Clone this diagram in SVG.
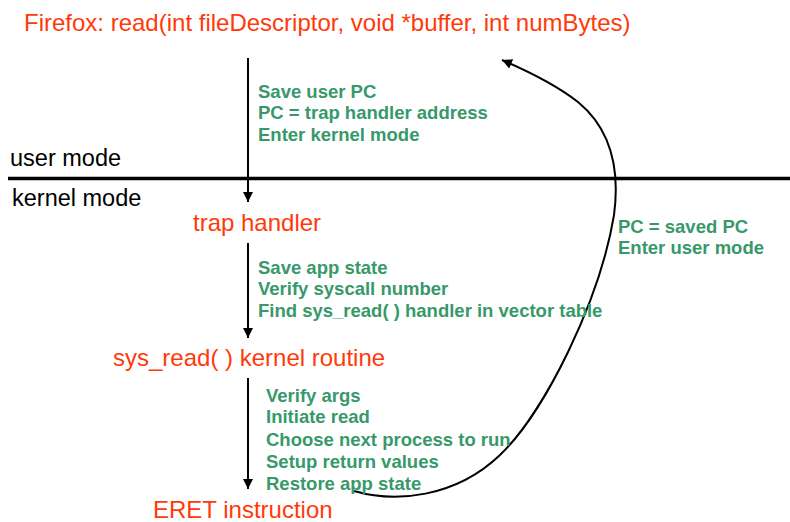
<svg xmlns="http://www.w3.org/2000/svg" width="790" height="522" viewBox="0 0 790 522">
  <style>
    .title { font-family: "Liberation Sans", Arial, sans-serif; font-size: 24px; fill: #ff3a0a; }
    .mode { font-family: "Liberation Sans", Arial, sans-serif; font-size: 23.5px; fill: #000; }
    .step { font-family: "Liberation Sans", Arial, sans-serif; font-size: 18.5px; font-weight: bold; fill: #37996a; }
    .flow { fill: none; stroke: #000; stroke-width: 2; }
  </style>
  <defs>
    <marker id="arrow" viewBox="0 0 10 10" refX="10" refY="5" markerWidth="10" markerHeight="10" markerUnits="userSpaceOnUse" orient="auto">
      <path d="M0,0 L10,5 L0,10 Z" fill="#000"/>
    </marker>
  </defs>

  <rect width="790" height="522" fill="#fff"/>

  <!-- user / kernel boundary -->
  <g id="boundary">
    <line x1="8" y1="178.5" x2="790" y2="178.5" stroke="#000" stroke-width="3.5"/>
    <text class="mode" x="10" y="166">user mode</text>
    <text class="mode" x="12" y="206">kernel mode</text>
  </g>

  <g id="firefox-read">
    <text class="title" x="24" y="31">Firefox: read(int fileDescriptor, void *buffer, int numBytes)</text>
  </g>

  <g id="trap-handler">
    <text class="title" x="193" y="231">trap handler</text>
  </g>

  <g id="sys-read">
    <text class="title" x="113" y="366">sys_read( ) kernel routine</text>
  </g>

  <g id="eret">
    <text class="title" x="153" y="518">ERET instruction</text>
  </g>

  <g id="connectors">
    <line class="flow" x1="248" y1="58" x2="248" y2="202" marker-end="url(#arrow)"/>
    <line class="flow" x1="248" y1="243" x2="248" y2="338" marker-end="url(#arrow)"/>
    <line class="flow" x1="248" y1="378" x2="248" y2="489" marker-end="url(#arrow)"/>
    <path class="flow" d="M354,491 C395,503 455,498 500,455 C545,412 600,300 614,215 C620,170 612,130 578,102 C555,84 530,72 502,60" marker-end="url(#arrow)"/>
  </g>

  <!-- step labels beside the connectors -->
  <g id="labels">
    <text class="step" x="258" y="98">Save user PC</text>
    <text class="step" x="258" y="119">PC = trap handler address</text>
    <text class="step" x="258" y="141">Enter kernel mode</text>

    <text class="step" x="258" y="274">Save app state</text>
    <text class="step" x="258" y="295">Verify syscall number</text>
    <text class="step" x="258" y="317">Find sys_read( ) handler in vector table</text>

    <text class="step" x="266" y="402">Verify args</text>
    <text class="step" x="266" y="423">Initiate read</text>
    <text class="step" x="266" y="446">Choose next process to run</text>
    <text class="step" x="266" y="468">Setup return values</text>
    <text class="step" x="266" y="490">Restore app state</text>

    <text class="step" x="618" y="233">PC = saved PC</text>
    <text class="step" x="618" y="254">Enter user mode</text>
  </g>
</svg>
